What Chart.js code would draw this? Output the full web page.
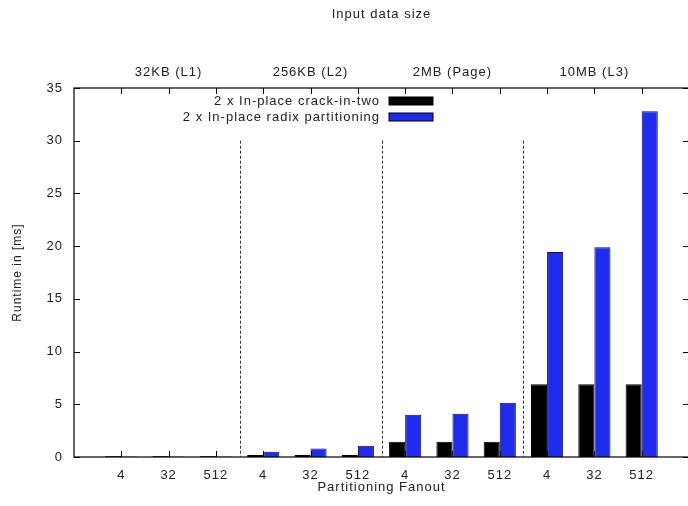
<!DOCTYPE html>
<html>
<head>
<meta charset="utf-8">
<script src="https://cdn.jsdelivr.net/npm/chart.js@4/dist/chart.umd.min.js"></script>
<style>
  html, body { margin: 0; padding: 0; background: #fff; overflow: hidden; }
  #wrap { position: relative; width: 700px; height: 506px; }
</style>
</head>
<body>
<div id="wrap"><canvas id="chart"></canvas></div>
<script>
// ---------- Data ----------
const groups = ['32KB (L1)', '256KB (L2)', '2MB (Page)', '10MB (L3)'];
const fanouts = ['4', '32', '512'];

// runtime in ms, per group x fanout
const crackInTwo = [0.10, 0.10, 0.10, 0.20, 0.20, 0.20, 1.45, 1.45, 1.45, 6.9, 6.9, 6.9];
const radixPartitioning = [0.05, 0.05, 0.05, 0.50, 0.80, 1.07, 4.0, 4.1, 5.15, 19.45, 19.9, 32.8];

const yTicks = [0, 5, 10, 15, 20, 25, 30, 35];

const FONT = "'Liberation Sans', Arial, Helvetica, sans-serif";
const BLUE = '#1f2cf0';

// one empty slot at each end so the axis runs from -1 to 12
const bottomLabels = [''].concat(...groups.map(() => fanouts), ['']);
const topLabels = [''].concat(...groups.map(g => fanouts.map((f, i) => (i === 1 ? g : ''))), ['']);
const pad = (arr) => [null, ...arr, null];

// ---------- Plugins ----------

// the original's text is spaced out a little (gnuplot postscript look)
const spacing = {
  id: 'spacing',
  beforeLayout(chart) { chart.ctx.letterSpacing = '1px'; },
  beforeDraw(chart) { chart.ctx.letterSpacing = '1px'; },
};

// inward tick marks, group separators and the gnuplot-style key
const decorations = {
  id: 'decorations',
  afterDatasetsDraw(chart) {
    const { ctx, chartArea: a, scales } = chart;
    const x = scales.x, y = scales.y;
    ctx.save();

    // frame
    ctx.strokeStyle = '#000';
    ctx.lineWidth = 1.2;
    ctx.strokeRect(a.left, a.top, a.right - a.left, a.bottom - a.top);

    // x ticks (bottom pointing up, top pointing down)
    ctx.lineWidth = 1;
    for (let i = 1; i < bottomLabels.length - 1; i++) {
      const px = Math.round(x.getPixelForValue(i)) + 0.5;
      ctx.beginPath();
      ctx.moveTo(px, a.bottom); ctx.lineTo(px, a.bottom - 6);
      ctx.moveTo(px, a.top); ctx.lineTo(px, a.top + 6);
      ctx.stroke();
    }
    // y ticks on both sides
    yTicks.forEach(v => {
      const py = Math.round(y.getPixelForValue(v)) + 0.5;
      ctx.beginPath();
      ctx.moveTo(a.left, py); ctx.lineTo(a.left + 6, py);
      ctx.moveTo(a.right, py); ctx.lineTo(a.right - 6, py);
      ctx.stroke();
    });

    // dashed separators between input sizes
    ctx.strokeStyle = '#333';
    ctx.setLineDash([3, 2]);
    for (let g = 1; g < groups.length; g++) {
      const px = Math.round(x.getPixelForValue(g * fanouts.length + 0.5)) + 0.5;
      ctx.beginPath();
      ctx.moveTo(px, y.getPixelForValue(30));
      ctx.lineTo(px, a.bottom);
      ctx.stroke();
    }
    ctx.setLineDash([]);

    // key: text right-aligned, sample box on the right
    ctx.font = '13px ' + FONT;
    ctx.textAlign = 'right';
    ctx.textBaseline = 'middle';
    chart.data.datasets.forEach((ds, i) => {
      const ty = 101 + i * 16;
      ctx.fillStyle = '#222';
      ctx.fillText(ds.label, 380, ty);
      ctx.fillStyle = ds.backgroundColor;
      ctx.fillRect(389, ty - 4, 44, 8);
      ctx.strokeStyle = '#000';
      ctx.strokeRect(389, ty - 4, 44, 8);
    });
    ctx.restore();
  },
};

// ---------- Chart ----------
new Chart(document.getElementById('chart'), {
  type: 'bar',
  data: {
    labels: bottomLabels,
    datasets: [
      {
        label: '2 x In-place crack-in-two',
        data: pad(crackInTwo),
        backgroundColor: '#000',
        borderColor: '#000',
        borderWidth: 1,
      },
      {
        label: '2 x In-place radix partitioning',
        data: pad(radixPartitioning),
        backgroundColor: BLUE,
        borderColor: '#101040',
        borderWidth: 1,
      },
    ],
  },
  options: {
    responsive: true,
    maintainAspectRatio: false,
    animation: false,
    layout: { padding: { left: 0, right: 8, top: 0, bottom: 0 } },
    datasets: { bar: { categoryPercentage: 0.68, barPercentage: 1.0 } },
    plugins: {
      legend: { display: false },
      tooltip: { enabled: false },
    },
    scales: {
      x: {
        type: 'category',
        offset: false,
        position: 'bottom',
        grid: { display: false, drawTicks: false },
        border: { display: false },
        ticks: {
          color: '#222',
          font: { family: FONT, size: 13 },
          padding: 11,
          autoSkip: false,
          maxRotation: 0,
        },
        title: {
          display: true,
          text: 'Partitioning Fanout',
          color: '#222',
          font: { family: FONT, size: 13 },
          padding: { top: 0, bottom: 11 },
        },
        afterFit: (s) => { s.height = 49; },
      },
      x2: {
        type: 'category',
        labels: topLabels,
        offset: false,
        position: 'top',
        grid: { display: false, drawTicks: false },
        border: { display: false },
        ticks: {
          color: '#222',
          font: { family: FONT, size: 13 },
          padding: 8,
          autoSkip: false,
          maxRotation: 0,
        },
        title: {
          display: true,
          text: 'Input data size',
          color: '#222',
          font: { family: FONT, size: 13 },
          padding: { top: 7, bottom: 0 },
        },
        afterFit: (s) => { s.height = 88; },
      },
      y: {
        min: 0,
        max: 35,
        grid: { display: false, drawTicks: false },
        border: { display: false },
        ticks: {
          stepSize: 5,
          color: '#222',
          font: { family: FONT, size: 13 },
          padding: 11,
        },
        title: {
          display: true,
          text: 'Runtime in [ms]',
          color: '#222',
          font: { family: FONT, size: 12 },
          padding: { top: 10, bottom: 0 },
        },
        afterFit: (s) => { s.width = 74; },
      },
    },
  },
  plugins: [spacing, decorations],
});
</script>
</body>
</html>
